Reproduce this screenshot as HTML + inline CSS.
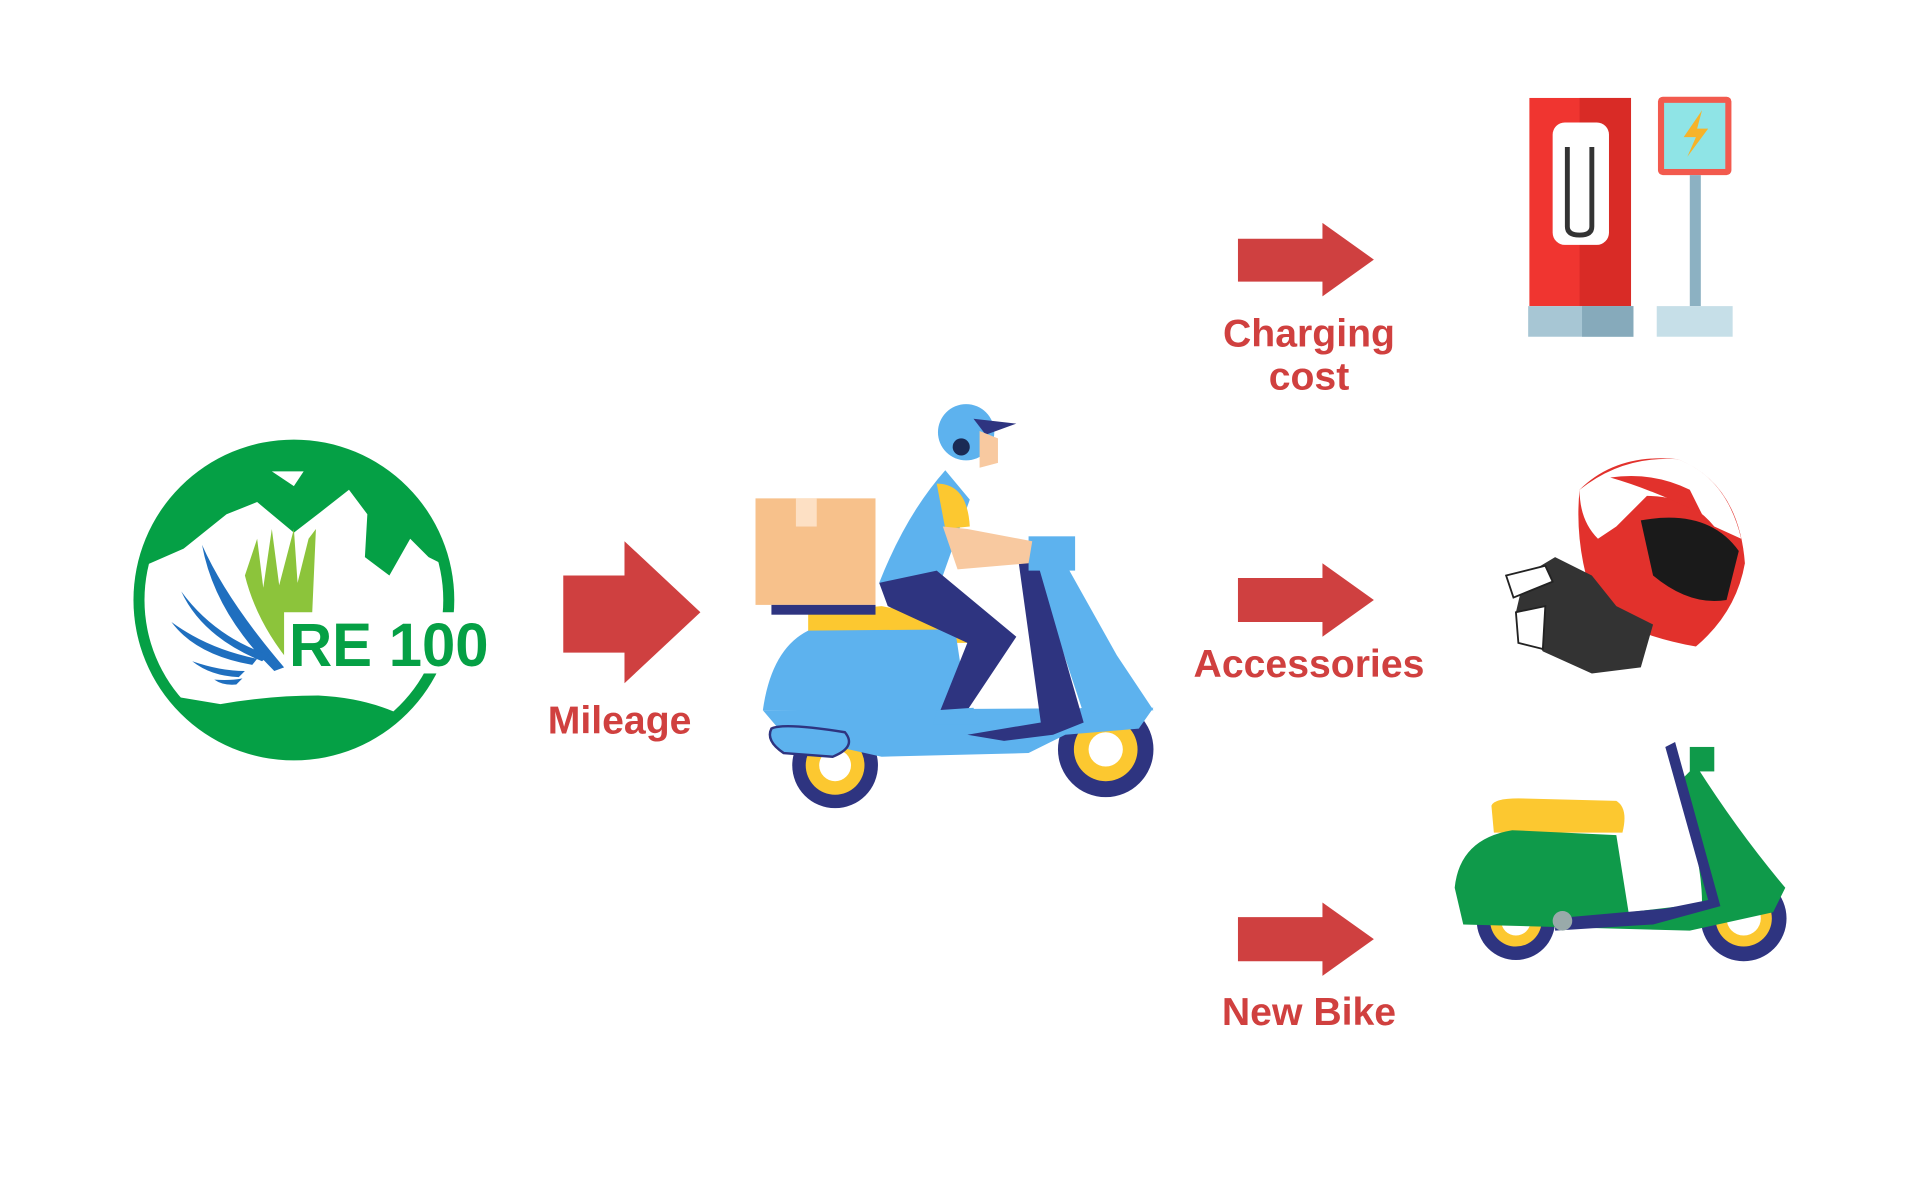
<!DOCTYPE html>
<html><head><meta charset="utf-8"><style>
html,body{margin:0;padding:0;background:#fff;}
svg{display:block}
text{font-family:"Liberation Sans",sans-serif;font-weight:bold;fill:#d0403f}
</style></head><body>
<svg width="1920" height="1200" viewBox="0 0 1568 980" xmlns="http://www.w3.org/2000/svg">
<defs><clipPath id="inner"><circle cx="240" cy="490" r="122"/></clipPath></defs>
<rect width="1568" height="980" fill="#fff"/>
<!-- Globe -->
<circle cx="240" cy="490" r="131" fill="#05a045"/>
<path clip-path="url(#inner)" d="M100,470 L150,448 L185,420 L210,410 L240,435 L262,418 L285,400 L300,420 L298,455 L318,470 L335,440 L350,455 L380,470 L380,560 L330,585 Q300,570 260,568 Q220,568 180,575 L120,565 L100,560Z" fill="#fff"/>
<path d="M222,385 L248,385 L240,397 Z" fill="#fff"/>
<g fill="#1f6fbf">
<path d="M165,445 Q185,490 232,545 L224,548 Q175,500 165,445Z"/>
<path d="M148,483 Q175,520 220,535 L214,540 Q165,520 148,483Z"/>
<path d="M140,508 Q170,530 210,538 L206,543 Q160,535 140,508Z"/>
<path d="M157,540 Q180,548 200,548 L195,553 Q172,552 157,540Z"/>
<path d="M175,555 Q188,556 198,554 L193,559 Q182,560 175,555Z"/>
</g>
<path d="M200,470 L210,440 L215,480 L222,432 L228,478 L240,432 L243,476 L252,440 L258,432 L255,500 L255,545 L240,545 Q210,510 200,470Z" fill="#8cc43b"/>
<rect x="232" y="500" width="170" height="50" fill="#fff"/>
<text x="236" y="544" style="fill:#05a045" font-size="50" textLength="163" lengthAdjust="spacingAndGlyphs">RE 100</text>
<!-- arrows -->
<g fill="#cf4040">
<path d="M460,470 L510,470 L510,442 L572,500 L510,558 L510,533 L460,533Z"/>
<path d="M1011,195 L1080,195 L1080,182 L1122,212 L1080,242 L1080,230 L1011,230Z"/>
<path d="M1011,472 L1080,472 L1080,460 L1122,490 L1080,520 L1080,508 L1011,508Z"/>
<path d="M1011,749 L1080,749 L1080,737 L1122,767 L1080,797 L1080,785 L1011,785Z"/>
</g>
<text x="506" y="599" font-size="32" text-anchor="middle">Mileage</text>
<text x="1069" y="283" font-size="32" text-anchor="middle">Charging</text>
<text x="1069" y="318" font-size="32" text-anchor="middle">cost</text>
<text x="1069" y="553" font-size="32" text-anchor="middle">Accessories</text>
<text x="1069" y="837" font-size="32" text-anchor="middle">New Bike</text>
<!-- blue scooter -->
<circle cx="682" cy="625" r="35" fill="#2e3480"/><circle cx="682" cy="625" r="24" fill="#fcc830"/><circle cx="682" cy="625" r="13" fill="#fff"/>
<circle cx="903" cy="612" r="39" fill="#2e3480"/><circle cx="903" cy="612" r="26" fill="#fcc830"/><circle cx="903" cy="612" r="14" fill="#fff"/>
<path d="M660,500 L720,495 L800,510 L800,525 L660,525Z" fill="#fcc830"/>
<path d="M623,580 Q630,530 660,515 L780,514 L790,580Z" fill="#5db2ee"/>
<path d="M623,580 L942,578 L930,595 L870,600 L840,615 L720,618 L640,600Z" fill="#5db2ee"/>
<path d="M630,595 Q640,590 690,598 Q700,610 680,618 L640,615 Q625,605 630,595Z" fill="#5db2ee" stroke="#2e3480" stroke-width="2"/>
<path d="M846,465 L870,460 L912,535 L942,580 L900,583 L884,580Z" fill="#5db2ee"/>
<path d="M832,460 L846,455 L885,590 L860,600 L820,605 L790,600 L850,590Z" fill="#2e3480"/>
<rect x="840" y="438" width="38" height="28" fill="#5db2ee"/>
<rect x="617" y="407" width="98" height="87" fill="#f7c18b"/>
<rect x="650" y="407" width="17" height="23" fill="#fde0c4"/>
<rect x="630" y="494" width="85" height="8" fill="#2e3480"/>
<path d="M718,476 Q740,420 772,384 L792,408 L770,470Z" fill="#5db2ee"/>
<path d="M765,395 Q790,395 792,430 L772,432Z" fill="#fcc830"/>
<path d="M718,476 L765,466 L830,520 L790,580 L768,580 L790,525 L725,495Z" fill="#2e3480"/>
<path d="M765,580 L795,578 L800,592 L762,592Z" fill="#5db2ee"/>
<path d="M770,430 L790,432 L843,442 L840,460 L782,465Z" fill="#f8c9a0"/>
<circle cx="789" cy="353" r="23" fill="#5db2ee"/>
<path d="M795,342 L830,346 L805,355Z" fill="#2e3480"/>
<path d="M800,352 L815,358 L815,378 L800,382Z" fill="#f8c9a0"/>
<circle cx="785" cy="365" r="7" fill="#1a2a55"/>
<!-- charger -->
<rect x="1249" y="80" width="83" height="170" fill="#f03530"/>
<rect x="1290" y="80" width="42" height="170" fill="#d92b26"/>
<rect x="1268" y="100" width="46" height="100" rx="10" fill="#fff"/>
<path d="M1280,120 L1280,185 Q1280,192 1290,192 Q1300,192 1300,185 L1300,120" fill="none" stroke="#333" stroke-width="4"/>
<rect x="1248" y="250" width="86" height="25" fill="#a7c6d4"/>
<rect x="1292" y="250" width="42" height="25" fill="#86aabb"/>
<rect x="1354" y="79" width="60" height="64" rx="4" fill="#f25a4e"/>
<rect x="1359" y="84" width="50" height="54" fill="#8fe4e6"/>
<path d="M1390,90 L1375,112 L1385,112 L1378,128 L1395,105 L1386,105Z" fill="#f7b329"/>
<rect x="1380" y="143" width="9" height="107" fill="#8cb1c2"/>
<rect x="1353" y="250" width="62" height="25" fill="#c6dfe8"/>
<!-- helmet & gloves -->
<path d="M1290,400 Q1320,370 1370,375 Q1420,395 1425,460 Q1418,500 1385,528 Q1340,520 1305,500 Q1285,450 1290,400Z" fill="#e2312c"/>
<path d="M1290,400 Q1325,372 1370,375 Q1410,390 1422,440 L1400,430 Q1380,405 1345,405 L1320,430 L1305,440 Q1290,425 1290,400Z" fill="#fff"/>
<path d="M1315,390 Q1350,400 1390,420 L1380,400 Q1350,385 1315,390Z" fill="#e2312c"/>
<path d="M1340,425 Q1395,415 1420,450 L1410,490 Q1380,495 1350,470Z" fill="#1a1a1a"/>
<path d="M1245,470 L1270,455 L1300,470 L1320,495 L1350,510 L1340,545 L1300,550 L1260,532 L1238,500Z" fill="#333"/>
<path d="M1230,470 L1262,462 L1268,475 L1236,488Z" fill="#fff" stroke="#222" stroke-width="1.5"/>
<path d="M1238,500 L1262,495 L1260,530 L1240,525Z" fill="#fff" stroke="#222" stroke-width="1.5"/>
<!-- green scooter -->
<path d="M1218,658 Q1220,652 1240,652 L1320,654 Q1330,660 1325,680 L1220,680Z" fill="#fcc830"/>
<circle cx="1238" cy="752" r="32" fill="#2e3480"/><circle cx="1238" cy="752" r="21" fill="#fcc830"/><circle cx="1238" cy="752" r="12" fill="#fff"/>
<circle cx="1424" cy="750" r="35" fill="#2e3480"/><circle cx="1424" cy="750" r="23" fill="#fcc830"/><circle cx="1424" cy="750" r="14" fill="#fff"/>
<path d="M1188,725 Q1192,685 1235,678 L1320,682 L1330,745 L1390,738 Q1390,700 1370,640 L1385,625 Q1420,680 1458,725 L1448,745 L1380,760 L1195,755Z" fill="#0f9a4a"/>
<path d="M1270,750 L1360,742 L1395,735 L1360,610 L1368,606 L1405,740 L1350,755 L1270,760Z" fill="#2e3480"/>
<rect x="1380" y="610" width="20" height="20" fill="#0f9a4a"/>
<circle cx="1276" cy="752" r="8" fill="#9aa"/>
</svg>
</body></html>
